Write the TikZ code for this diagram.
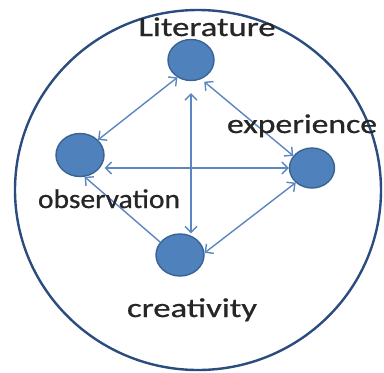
\documentclass[tikz,border=0pt]{standalone}
\usepackage{fontspec}
\setmainfont{Carlito}
\newfontfamily\labelfont[FakeBold=0.7]{Carlito}
\usepackage{xcolor}
\usepackage{graphicx}
\usepackage{tikz}
\usetikzlibrary{arrows.meta,shapes.geometric}

\definecolor{dotfill}{HTML}{4F81BD}
\definecolor{dotedge}{HTML}{3A6393}
\definecolor{linkblue}{HTML}{5B86C0}
\definecolor{ringblue}{HTML}{2B4C7E}

% stretch a label to a given width, keeping its height
\newcommand{\wide}[2]{\resizebox{#1}{\height}{#2}}

\begin{document}
\begin{tikzpicture}[x=1pt, y=-1pt,
    >={Straight Barb[length=6pt,width=12pt]},
    dot/.style={ellipse, fill=dotfill, draw=dotedge, line width=1.4pt,
      minimum width=46pt, minimum height=41pt, inner sep=0pt},
    link/.style={draw=linkblue, line width=1.4pt},
    word/.style={font=\labelfont\fontsize{27}{32}\selectfont, text=black!85,
      anchor=base, inner sep=0pt}]
  \useasboundingbox (0,0) rectangle (384,373);

  % Outer ring
  \draw[ringblue, line width=2.4pt] (198,190) ellipse [x radius=183, y radius=180];

  % The four sources
  \node[dot] (lit) at (191,60) {};
  \node[dot, minimum width=48pt, minimum height=43pt] (obs) at (80,155) {};
  \node[dot, minimum width=45pt, minimum height=40pt] (exp) at (312,168) {};
  \node[dot, minimum width=48pt, minimum height=42pt] (cre) at (180,255) {};

  % Links
  \draw[link, <->] (lit.232) -- (obs.40);
  \draw[link, <->, shorten <=4pt] (lit.298) -- (exp.147);
  \draw[link, <->, shorten <=12pt] (lit.south) -- (lit.south |- cre.north);
  \draw[link, <->] (obs.east |- exp.west) -- (exp.west);
  \draw[link, ->] (cre.147) -- (obs.282);
  \draw[link, <->] (exp.222) -- (cre.5);

  % Labels
  \node[word] (litlbl) at (207,36) {\wide{137pt}{Literature}};
  \node[word] (explbl) at (302,133) {\wide{150pt}{experience}};
  \node[word] (obslbl) at (109,208) {\wide{142pt}{observation}};
  \node[word] (crelbl) at (192,317) {\wide{130pt}{creativity}};
\end{tikzpicture}
\end{document}
